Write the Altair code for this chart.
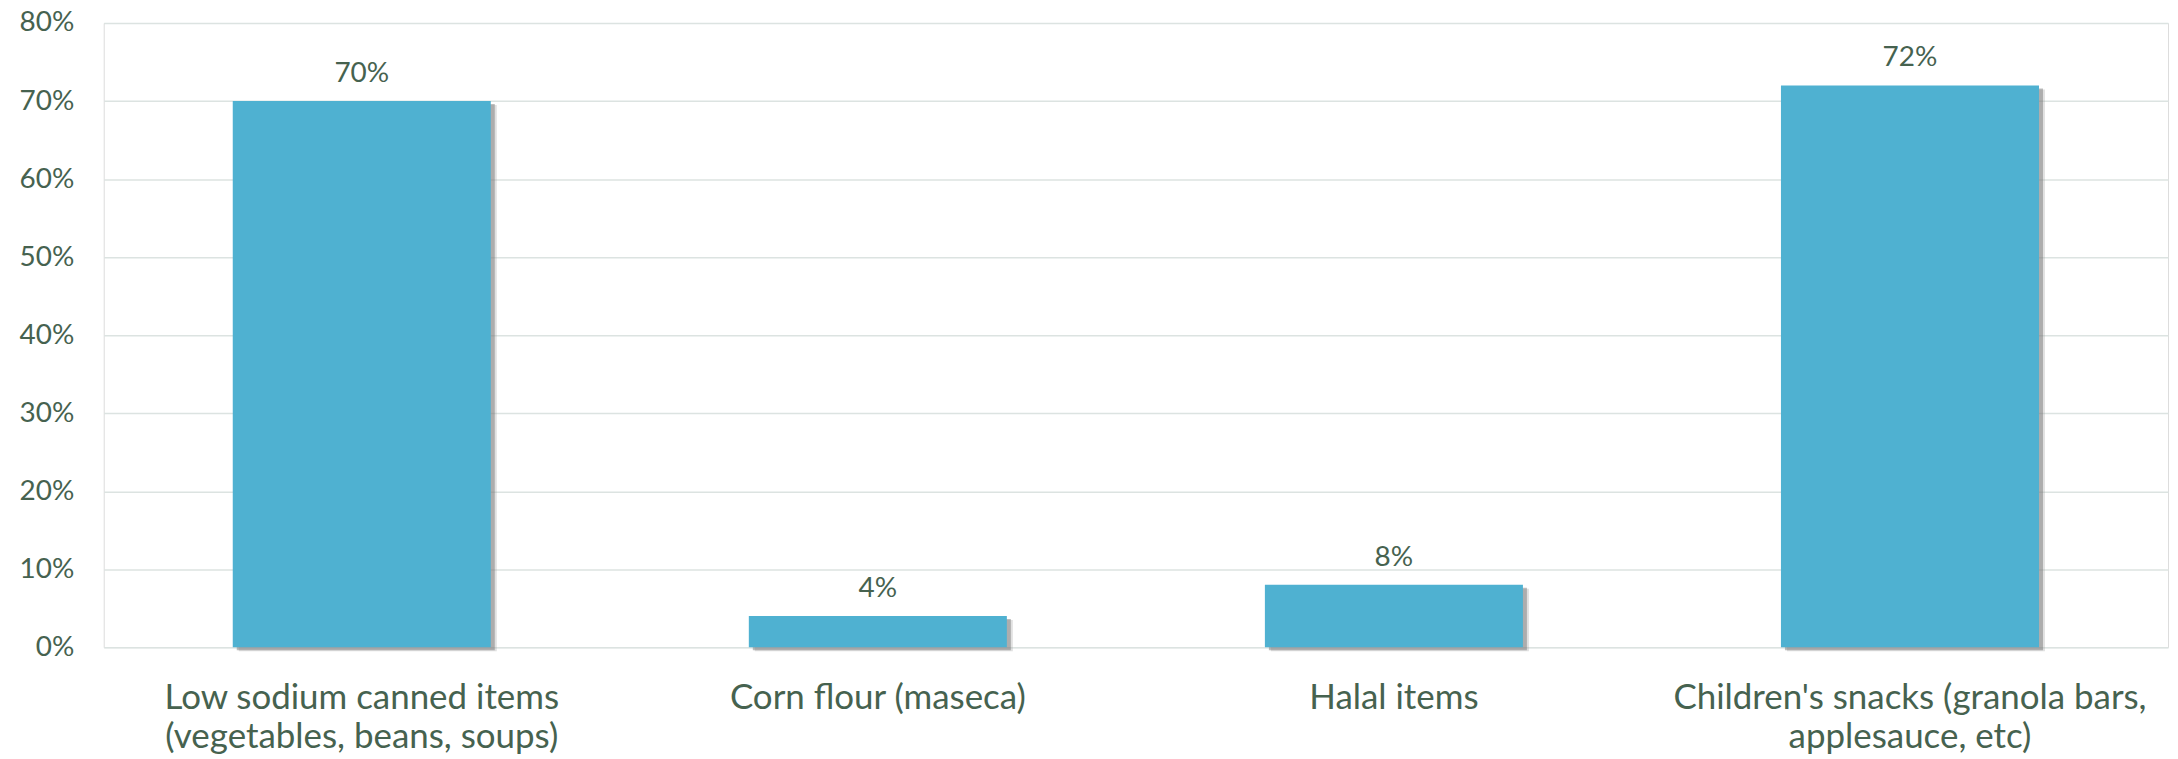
import altair as alt
import pandas as pd

categories = [
    "Low sodium canned items\n(vegetables, beans, soups)",
    "Corn flour (maseca)",
    "Halal items",
    "Children's snacks (granola bars,\napplesauce, etc)",
]
values = [0.70, 0.04, 0.08, 0.72]
value_labels = ["70%", "4%", "8%", "72%"]

df = pd.DataFrame({"cat": categories, "val": values, "lab": value_labels})

TEXT = "#46624F"
BAR = "#4FB1D1"
FONT = "Lato"

x = alt.X(
    "cat:N",
    sort=categories,
    title=None,
    scale=alt.Scale(paddingInner=0.5, paddingOuter=0.25),
    axis=alt.Axis(
        labelAngle=0,
        labelExpr="split(datum.label, '\\n')",
        labelFontSize=35,
        labelFont=FONT,
        labelColor=TEXT,
        labelLineHeight=40,
        labelPadding=33,
        labelBaseline="top",
        labelLimit=0,
        ticks=False,
        domain=False,
        grid=False,
    ),
)
y = alt.Y(
    "val:Q",
    title=None,
    scale=alt.Scale(domain=[0, 0.8], nice=False),
    axis=alt.Axis(
        format="%",
        values=[0, 0.1, 0.2, 0.3, 0.4, 0.5, 0.6, 0.7, 0.8],
        labelFontSize=28,
        labelFont=FONT,
        labelColor=TEXT,
        labelPadding=30,
        ticks=False,
        domain=False,
        grid=True,
        gridColor="#DCE3E1",
        gridWidth=1.5,
    ),
)

base = alt.Chart(df)
shadow = base.mark_bar(color="#6f6f6f", opacity=0.45, xOffset=4, yOffset=3).encode(x=x, y=y)
shadow2 = base.mark_bar(color="#9a9a9a", opacity=0.3, xOffset=6, yOffset=4).encode(x=x, y=y)
bars = base.mark_bar(color=BAR).encode(x=x, y=y)
labels = base.mark_text(
    font=FONT, fontSize=28, color=TEXT, dy=-19, baseline="alphabetic"
).encode(x=x, y=y, text="lab:N")

chart = (
    alt.layer(shadow2, shadow, bars, labels)
    .properties(
        width=2070,
        height=626,
        autosize=alt.AutoSizeParams(type="none"),
        padding={"left": 96, "top": 14, "right": 2, "bottom": 110},
    )
    .configure_view(stroke=None)
    .configure(background="white")
)

chart.save("out.html", embed_options={"renderer": "svg", "actions": False})
